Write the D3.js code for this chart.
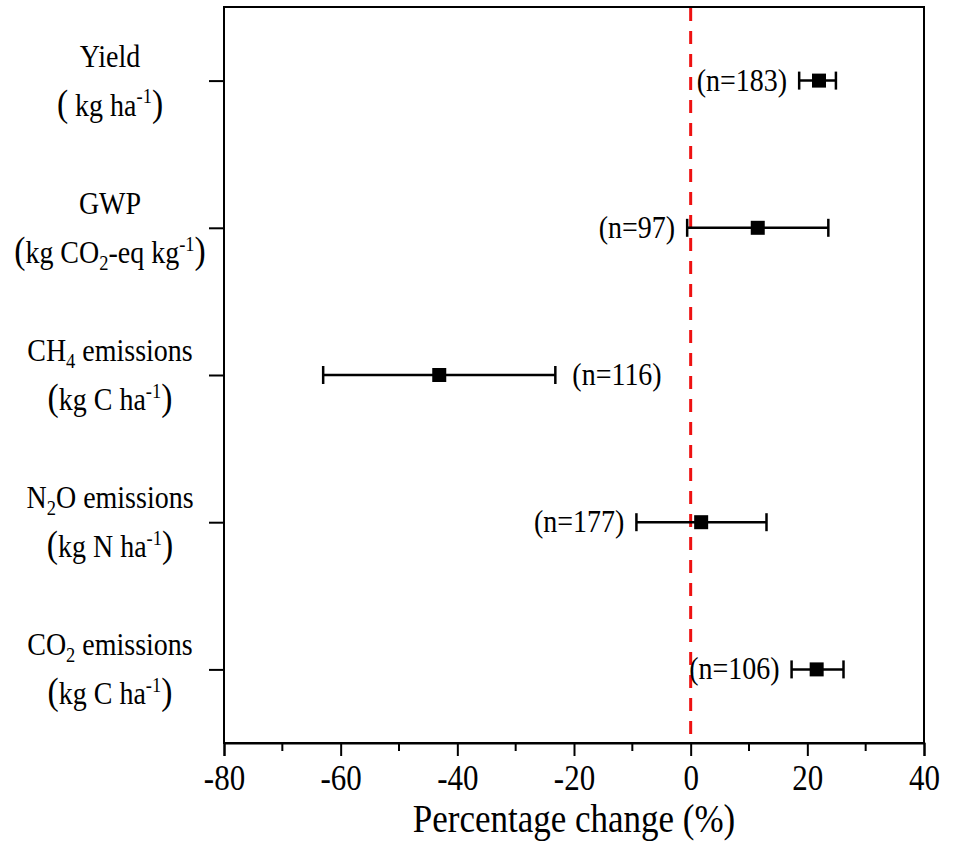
<!DOCTYPE html>
<html>
<head>
<meta charset="utf-8">
<script src="https://cdn.jsdelivr.net/npm/d3@7"></script>
<style>
  body { margin: 0; background: #fff; }
  svg text { font-family: "Liberation Serif", Tinos, "DejaVu Serif", serif; fill: #000; }
</style>
</head>
<body>
<div id="container"></div>
<script>
/* DATA */
const categories = ["Yield", "GWP", "CH4", "N2O", "CO2"];
const meanChange = [22.0, 11.5, -43.1, 1.8, 21.6];
const lowerCI = [18.6, -0.6, -63.0, -9.3, 17.3];
const upperCI = [24.9, 23.6, -23.2, 13.0, 26.2];
const nObs = [183, 97, 116, 177, 106];
const xTicks = [-80, -60, -40, -20, 0, 20, 40];

// label lines: [text, kind] where kind is "" / "sub" / "sup" / "paren"
const labelLine1 = [
  [["Yield", ""]],
  [["GWP", ""]],
  [["CH", ""], ["4", "sub"], [" emissions", ""]],
  [["N", ""], ["2", "sub"], ["O emissions", ""]],
  [["CO", ""], ["2", "sub"], [" emissions", ""]]
];
const labelLine2 = [
  [["(", "paren"], [" kg ha", ""], ["-1", "sup"], [")", "paren"]],
  [["(", "paren"], ["kg CO", ""], ["2", "sub"], ["-eq kg", ""], ["-1", "sup"], [")", "paren"]],
  [["(", "paren"], ["kg C ha", ""], ["-1", "sup"], [")", "paren"]],
  [["(", "paren"], ["kg N ha", ""], ["-1", "sup"], [")", "paren"]],
  [["(", "paren"], ["kg C ha", ""], ["-1", "sup"], [")", "paren"]]
];

const rows = categories.map((c, i) => ({
  key: c, mean: meanChange[i], lo: lowerCI[i], hi: upperCI[i], n: nObs[i],
  line1: labelLine1[i], line2: labelLine2[i]
}));

/* LAYOUT */
const width = 956, height = 841;
const margin = { top: 7, right: 32, bottom: 98, left: 224 };
const serif = '"Liberation Serif", Tinos, "DejaVu Serif", serif';
const SY = 1.15; // the reference type is a bit taller than it is wide

const svg = d3.select("#container").append("svg")
  .attr("width", width).attr("height", height)
  .attr("font-family", serif);

// text helper: baseline at (x, y), stretched vertically
function addText(parent, x, y, size, anchor) {
  return parent.append("text")
    .attr("transform", `translate(${x}, ${y}) scale(1, ${SY})`)
    .attr("text-anchor", anchor || "middle")
    .attr("font-size", size);
}

const xScale = d3.scaleLinear()
  .domain([-80, 40])
  .range([margin.left, width - margin.right]);

const yScale = d3.scalePoint()
  .domain(categories)
  .range([margin.top, height - margin.bottom])
  .padding(0.5);

const plotBottom = height - margin.bottom;

// frame
svg.append("rect")
  .attr("x", margin.left).attr("y", margin.top)
  .attr("width", width - margin.right - margin.left)
  .attr("height", plotBottom - margin.top)
  .attr("fill", "none").attr("stroke", "#000").attr("stroke-width", 2);

// x axis, major + minor ticks
const xAxis = d3.axisBottom(xScale).tickValues(xTicks).tickSize(13).tickFormat(d => String(d));
const xAxisGroup = svg.append("g")
  .attr("transform", `translate(0, ${plotBottom})`)
  .call(xAxis)
  .attr("font-family", serif);
xAxisGroup.select(".domain").attr("stroke-width", 2);
xAxisGroup.selectAll(".tick line").attr("stroke-width", 2);
xAxisGroup.selectAll(".tick text")
  .attr("font-size", 31)
  .attr("y", 0).attr("dy", 0)
  .attr("transform", `translate(0, 47) scale(1, ${SY})`);

const minorTicks = d3.range(-70, 40, 20);
svg.append("g").selectAll("line")
  .data(minorTicks)
  .join("line")
  .attr("x1", d => xScale(d)).attr("x2", d => xScale(d))
  .attr("y1", plotBottom).attr("y2", plotBottom + 8)
  .attr("stroke", "#000").attr("stroke-width", 2);

addText(svg, (xScale(-80) + xScale(40)) / 2, 832, 35)
  .text("Percentage change (%)");

// y axis ticks (left, outward)
const yAxis = d3.axisLeft(yScale).tickSize(15).tickFormat("");
const yAxisGroup = svg.append("g")
  .attr("transform", `translate(${margin.left}, 0)`)
  .call(yAxis);
yAxisGroup.select(".domain").remove();
yAxisGroup.selectAll(".tick line").attr("stroke-width", 2);

// y labels (two lines with sub / superscripts)
function writeLine(sel, parts, size) {
  let shift = 0;
  parts.forEach(([t, kind]) => {
    let target = 0, fs = size;
    if (kind === "sub") { target = size * 0.22; fs = size * 0.66; }
    else if (kind === "sup") { target = -size * 0.38; fs = size * 0.66; }
    else if (kind === "paren") { fs = size * 1.2; }
    sel.append("tspan")
      .attr("font-size", fs)
      .attr("dy", target - shift)
      .text(t);
    shift = target;
  });
}

const labelSize = 28;
const labelX = 110;
rows.forEach(r => {
  const y = yScale(r.key);
  writeLine(addText(svg, labelX, y - 14, labelSize), r.line1, labelSize);
  writeLine(addText(svg, labelX, y + 35, labelSize), r.line2, labelSize);
});

// red dashed zero line
svg.append("line")
  .attr("x1", xScale(0)).attr("x2", xScale(0))
  .attr("y1", margin.top + 1).attr("y2", plotBottom - 1)
  .attr("stroke", "#ee1111").attr("stroke-width", 3)
  .attr("stroke-dasharray", "13,10");

// error bars
const capHalf = 9, sq = 14;
const bars = svg.append("g").selectAll("g")
  .data(rows)
  .join("g")
  .attr("transform", d => `translate(0, ${yScale(d.key)})`);

bars.append("line")
  .attr("x1", d => xScale(d.lo)).attr("x2", d => xScale(d.hi))
  .attr("stroke", "#000").attr("stroke-width", 2.5);
bars.append("line")
  .attr("x1", d => xScale(d.lo)).attr("x2", d => xScale(d.lo))
  .attr("y1", -capHalf).attr("y2", capHalf)
  .attr("stroke", "#000").attr("stroke-width", 2.5);
bars.append("line")
  .attr("x1", d => xScale(d.hi)).attr("x2", d => xScale(d.hi))
  .attr("y1", -capHalf).attr("y2", capHalf)
  .attr("stroke", "#000").attr("stroke-width", 2.5);
bars.append("rect")
  .attr("x", d => xScale(d.mean) - sq / 2).attr("y", -sq / 2)
  .attr("width", sq).attr("height", sq)
  .attr("fill", "#000");

// n labels: left of the bar, or right of it for negative effects
bars.each(function (d) {
  const g = d3.select(this);
  const right = d.mean < 0;
  addText(g, right ? xScale(d.hi) + 17 : xScale(d.lo) - 12, 10, 28, right ? "start" : "end")
    .text(`(n=${d.n})`);
});
</script>
</body>
</html>
